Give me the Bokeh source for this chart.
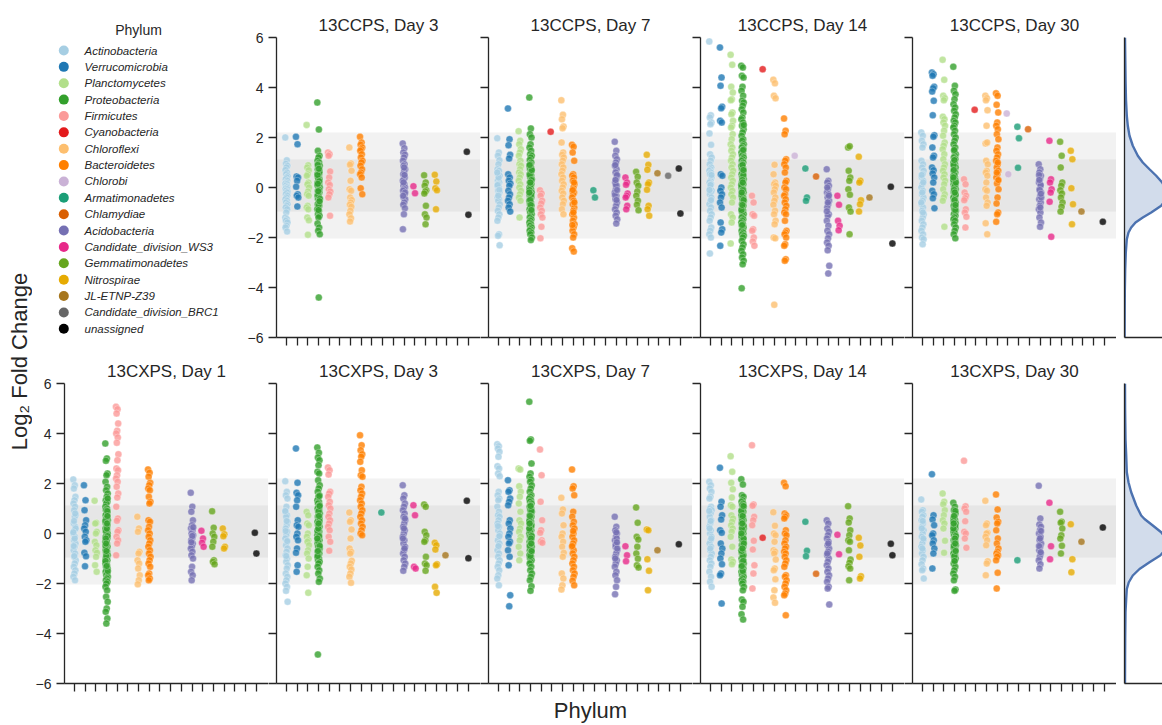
from bokeh.plotting import figure
from bokeh.models import ColumnDataSource, FixedTicker, BoxAnnotation, Label, Range1d
from bokeh.layouts import row, column
from bokeh.embed import file_html
from bokeh.resources import INLINE
from bokeh.core.properties import value

PHYLA = ["Actinobacteria", "Verrucomicrobia", "Planctomycetes", "Proteobacteria", "Firmicutes",
         "Cyanobacteria", "Chloroflexi", "Bacteroidetes", "Chlorobi", "Armatimonadetes", "Chlamydiae",
         "Acidobacteria", "Candidate_division_WS3", "Gemmatimonadetes", "Nitrospirae", "JL-ETNP-Z39",
         "Candidate_division_BRC1", "unassigned"]
COLORS = ["#a6cee3", "#1f78b4", "#b2df8a", "#33a02c", "#fb9a99", "#e31a1c", "#fdbf6f", "#ff7f00",
          "#cab2d6", "#1b9e77", "#d95f02", "#7570b3", "#e7298a", "#66a61e", "#e6ab02", "#a6761d",
          "#666666", "#000000"]
YTICKS = [-6, -4, -2, 0, 2, 4, 6]
YTICK_LABELS = ["\u22126", "\u22124", "\u22122", "0", "2", "4", "6"]
BAND_OUTER = [-2.04, 2.2]
BAND_INNER = [-0.96, 1.12]

TOP_TITLES = ["13CCPS, Day 3", "13CCPS, Day 7", "13CCPS, Day 14", "13CCPS, Day 30"]
BOTTOM_TITLES = ["13CXPS, Day 1", "13CXPS, Day 3", "13CXPS, Day 7", "13CXPS, Day 14", "13CXPS, Day 30"]

# log2 fold change per phylum (order of PHYLA), one list of lists per panel
CCPS_D3 = [
    [2.0, 1.09, 0.95, 0.87, 0.8, 0.7, 0.6, 0.53, 0.45, 0.4, 0.33, 0.27, 0.2, 0.15, 0.13, 0.07, 0.02, 0.0, -0.05, -0.07, -0.13, -0.18, -0.2, -0.27, -0.33, -0.4, -0.47, -0.53, -0.6, -0.67, -0.73, -0.8, -0.87, -1.0, -1.2, -1.27, -1.33, -1.4, -1.53, -1.6, -1.76],
    [2.03, 1.73, 0.44, 0.4, 0.27, 0.03, -0.27, -0.33, -0.4, -0.76],
    [2.5, 0.89, 0.8, 0.69, 0.53, 0.47, 0.2, 0.13, 0.0, -0.16, -0.27, -0.33, -0.73, -0.8, -0.87, -1.2, -1.31, -1.89],
    [3.4, 2.32, 1.47, 1.27, 1.2, 1.07, 1.0, 0.93, 0.87, 0.8, 0.73, 0.67, 0.6, 0.53, 0.47, 0.4, 0.33, 0.27, 0.2, 0.13, 0.07, 0.0, -0.07, -0.13, -0.2, -0.27, -0.33, -0.4, -0.47, -0.53, -0.6, -0.67, -0.73, -0.8, -0.87, -0.93, -1.07, -1.13, -1.2, -1.44, -1.6, -1.73, -1.87, -4.4, 0.9, 0.6, 0.35, 0.1, -0.1, -0.3, -0.5, -0.7, 0.5, 0.25, -0.15, -0.45, 0.75, 0.15, -0.55, -0.9],
    [1.4, 1.33, 1.27, 0.64, 0.4, 0.2, 0.1, -0.07, -0.16, -0.27, -0.4, -1.13],
    [],
    [1.6, 0.96, 0.91, 0.67, 0.27, -0.07, -0.13, -0.4, -0.5, -0.6, -0.69, -0.77, -0.93, -1.07, -1.23, -1.36],
    [2.03, 1.8, 1.71, 1.6, 1.53, 1.47, 1.33, 1.2, 1.07, 1.0, 0.87, 0.73, 0.6, 0.53, 0.4, -0.03, -0.27],
    [], [], [],
    [1.76, 1.57, 1.4, 1.31, 1.2, 1.07, 0.93, 0.87, 0.73, 0.67, 0.53, 0.4, 0.33, 0.27, 0.13, 0.07, 0.0, -0.07, -0.13, -0.27, -0.4, -0.47, -0.6, -0.69, -0.83, -1.07, -1.67, 0.5, 0.2, -0.2, 0.8, -0.33],
    [0.05, -0.23],
    [0.49, 0.2, 0.07, -0.11, -0.16, -0.24, -0.73, -1.07, -1.2, -1.47],
    [0.51, 0.24, -0.03, -0.11, -0.87],
    [], [],
    [1.43, -1.09],
]
CCPS_D7 = [
    [1.97, 1.4, 1.27, 1.09, 0.93, 0.73, 0.67, 0.53, 0.47, 0.33, 0.27, 0.2, 0.13, 0.07, 0.0, -0.13, -0.2, -0.27, -0.4, -0.47, -0.53, -0.67, -0.8, -0.93, -1.07, -1.2, -1.33, -1.87, -1.93, -2.31, 0.4, 0.1, -0.1, -0.33, 0.6],
    [3.16, 1.93, 1.69, 1.31, 1.16, 0.53, 0.4, 0.27, 0.16, 0.07, -0.13, -0.27, -0.4, -0.53, -0.67, -0.8, -0.96],
    [2.25, 1.87, 1.73, 1.53, 1.4, 1.27, 1.07, 0.93, 0.87, 0.73, 0.6, 0.53, 0.4, 0.27, 0.13, 0.0, -0.13, -0.27, -0.4, -0.53, -1.2],
    [3.6, 2.36, 2.13, 2.0, 1.73, 1.6, 1.47, 1.33, 1.27, 1.2, 1.1, 1.0, 0.93, 0.87, 0.8, 0.73, 0.67, 0.6, 0.53, 0.47, 0.4, 0.33, 0.27, 0.2, 0.13, 0.07, 0.0, -0.07, -0.13, -0.2, -0.27, -0.33, -0.4, -0.47, -0.53, -0.6, -0.67, -0.73, -0.8, -0.87, -0.93, -1.0, -1.07, -1.13, -1.2, -1.27, -1.33, -1.4, -1.47, -1.53, -1.6, -1.67, -1.73, -1.8, -1.87, -2.0, -2.1, 0.5, 0.3, 0.1, -0.1, -0.3, -0.5, 0.7, -0.7, 0.9, -0.9, 0.2, -0.2],
    [-0.11, -0.24, -0.33, -0.53, -0.64, -0.8, -0.93, -1.07, -1.2, -1.57, -2.03],
    [2.23],
    [3.49, 2.91, 2.73, 2.44, 2.37, 1.8, 1.4, 1.31, 1.2, 1.07, 0.93, 0.8, 0.67, 0.53, 0.4, 0.27, 0.13, 0.0, -0.13, -0.24, -0.4, -0.53, -0.67, -0.87, -1.07],
    [1.71, 1.63, 1.4, 1.07, 0.53, 0.47, 0.4, 0.27, 0.13, 0.0, -0.13, -0.2, -0.27, -0.4, -0.53, -0.67, -0.8, -0.93, -1.07, -1.2, -1.33, -1.47, -1.6, -1.73, -1.87, -2.0, -2.43, -2.56, -0.1, -0.6, -1.0, -1.5, 0.2],
    [],
    [-0.11, -0.4],
    [],
    [1.83, 1.47, 1.27, 1.13, 1.0, 0.87, 0.73, 0.6, 0.47, 0.33, 0.2, 0.07, -0.07, -0.2, -0.33, -0.47, -0.6, -0.73, -0.87, -1.0, -1.13, -1.27, -1.44, 0.9, 0.5, 0.1, -0.3, -0.5, 0.3, -0.1],
    [0.4, 0.2, 0.11, -0.24, -0.33, -0.4, -0.73, -0.87],
    [0.63, 0.43, 0.2, 0.07, -0.16, -0.33, -0.53, -0.69, -0.91],
    [1.31, 0.91, 0.71, 0.2, 0.13, -0.09, -0.73, -0.87, -1.13],
    [0.57],
    [0.47],
    [0.76, -1.04],
]
CCPS_D14 = [
    [5.84, 2.89, 2.8, 2.6, 2.53, 2.16, 1.71, 1.33, 1.2, 1.07, 0.93, 0.8, 0.73, 0.67, 0.6, 0.53, 0.4, 0.27, 0.2, 0.13, 0.0, -0.13, -0.2, -0.27, -0.4, -0.53, -0.67, -0.8, -0.93, -1.07, -1.2, -1.33, -1.6, -1.73, -1.87, -2.0, -2.64, 0.5, 0.1, -0.1, -0.5],
    [5.6, 4.4, 4.07, 3.23, 3.17, 2.67, 2.6, 0.53, 0.47, 0.0, -0.13, -0.27, -0.4, -0.6, -0.8, -1.4, -1.67, -1.8, -2.33],
    [5.31, 4.91, 4.03, 3.8, 3.53, 3.49, 3.0, 2.93, 2.67, 2.47, 2.4, 2.13, 1.93, 1.73, 1.6, 1.47, 1.33, 1.2, 1.07, 0.93, 0.8, 0.67, 0.53, 0.4, 0.27, 0.13, 0.0, -0.13, -0.27, -0.4, -0.6, -1.07, -1.2, -1.4, -2.24],
    [4.87, 4.8, 4.47, 4.4, 4.03, 3.87, 3.67, 3.47, 3.4, 3.27, 3.13, 3.0, 2.8, 2.73, 2.6, 2.47, 2.33, 2.2, 2.07, 1.93, 1.87, 1.73, 1.67, 1.6, 1.53, 1.47, 1.4, 1.33, 1.27, 1.2, 1.13, 1.07, 1.0, 0.93, 0.87, 0.8, 0.73, 0.67, 0.6, 0.53, 0.47, 0.4, 0.33, 0.27, 0.2, 0.13, 0.07, 0.0, -0.07, -0.13, -0.2, -0.27, -0.33, -0.4, -0.47, -0.53, -0.6, -0.67, -0.73, -0.8, -0.87, -0.93, -1.0, -1.07, -1.13, -1.2, -1.27, -1.33, -1.4, -1.47, -1.53, -1.6, -1.67, -1.73, -1.8, -1.87, -1.93, -2.0, -2.13, -2.27, -2.4, -2.53, -2.67, -2.8, -2.93, -3.07, -4.03, 0.5, 0.3, 0.1, -0.1, -0.3, -0.5, 0.9, -0.9, 1.5, -1.5, 2.5, 0.2, -0.2, 0.7, -0.7],
    [-0.33, -0.6, -1.07, -1.13, -1.67, -1.73, -2.0, -2.16, -2.33],
    [4.73],
    [4.31, 4.17, 3.67, 3.57, 0.91, 0.53, 0.2, 0.13, 0.07, -0.07, -0.2, -0.4, -0.53, -0.69, -0.93, -1.07, -1.33, -1.47, -2.0, -2.03, -4.69],
    [2.76, 2.27, 2.13, 1.13, 1.07, 0.93, 0.8, 0.6, 0.27, 0.2, 0.0, -0.07, -0.27, -0.33, -0.47, -0.6, -0.73, -0.87, -1.0, -1.07, -1.33, -1.73, -1.8, -1.87, -2.0, -2.27, -2.33, -2.87, -2.93],
    [1.27],
    [0.76, -0.4, -0.53],
    [0.44],
    [0.73, 0.27, 0.2, 0.07, -0.07, -0.2, -0.27, -0.4, -0.53, -0.67, -0.8, -1.07, -1.13, -1.33, -1.53, -1.73, -1.87, -2.03, -2.2, -2.33, -2.51, -3.13, -3.44, 0.0, -0.33, -0.6, -0.95],
    [-0.33, -0.69, -1.33, -1.53, -1.71],
    [1.6, 1.65, 0.67, 0.4, 0.27, -0.07, -0.29, -0.8, -0.96, -1.87],
    [1.23, 0.27, 0.2, -0.51, -0.67, -0.96],
    [-0.4],
    [],
    [0.03, -2.24],
]
CCPS_D30 = [
    [2.2, 2.07, 1.87, 1.73, 1.6, 1.07, 0.93, 0.8, 0.67, 0.53, 0.4, 0.27, 0.13, 0.0, -0.13, -0.27, -0.4, -0.53, -0.67, -0.8, -0.93, -1.07, -1.2, -1.33, -1.47, -1.6, -1.73, -1.87, -2.0, -2.07, -2.27, 0.5, 0.2, -0.2, -0.6, -1.0],
    [4.6, 4.53, 4.47, 4.03, 3.97, 3.84, 3.47, 2.89, 2.09, 2.03, 1.6, 1.27, 1.2, 0.8, 0.69, 0.56, 0.4, 0.2, -0.13, -0.27, -0.43, -0.83],
    [5.11, 4.31, 3.67, 3.57, 3.49, 2.83, 2.73, 2.6, 2.47, 2.27, 2.07, 1.8, 1.67, 1.53, 1.33, 1.13, 0.93, 0.8, 0.67, 0.53, 0.4, 0.27, 0.13, -0.07, -0.27, -0.4, -0.53, -1.57],
    [4.83, 4.07, 3.87, 3.73, 3.53, 3.33, 3.2, 3.07, 2.93, 2.8, 2.67, 2.6, 2.47, 2.4, 2.27, 2.13, 2.0, 1.87, 1.73, 1.6, 1.47, 1.33, 1.27, 1.2, 1.13, 1.07, 1.0, 0.93, 0.87, 0.8, 0.73, 0.67, 0.6, 0.53, 0.47, 0.4, 0.33, 0.27, 0.2, 0.13, 0.07, 0.0, -0.07, -0.13, -0.2, -0.27, -0.33, -0.4, -0.47, -0.53, -0.6, -0.67, -0.73, -0.8, -0.87, -0.93, -1.0, -1.07, -1.13, -1.2, -1.27, -1.33, -1.47, -1.6, -1.73, -1.87, -2.03, 0.5, 0.3, 0.1, -0.1, -0.3, -0.5, 0.9, -0.9, 1.5, 0.2, -0.2, 0.7, -0.7, 1.1, 0.4],
    [0.33, 0.13, -0.2, -0.33, -0.43, -0.51, -0.87, -1.0, -1.17, -1.6],
    [3.11],
    [3.67, 3.57, 3.49, 3.09, 2.47, 1.76, 1.8, 1.07, 0.93, 0.67, 0.6, 0.47, 0.2, -0.07, -0.13, -0.4, -0.6, -0.73, -1.43, -1.87],
    [3.77, 3.67, 3.31, 3.0, 2.6, 2.47, 2.33, 2.13, 1.93, 1.6, 1.47, 1.33, 1.2, 1.07, 0.93, 0.8, 0.67, 0.53, 0.4, 0.27, 0.16, -0.07, -0.4, -0.64, -1.0, -1.07, -1.37, 1.0, 0.6, 0.3],
    [2.96, 0.53],
    [2.43, 1.97, 0.79],
    [2.33],
    [0.93, 0.73, 0.6, 0.47, 0.33, 0.2, 0.07, -0.07, -0.2, -0.33, -0.47, -0.6, -0.73, -0.87, -1.0, -1.2, -1.4, -1.57, 0.5, 0.1, -0.1, -0.4, -0.8, 0.3, -0.25],
    [1.87, 0.33, 0.2, -0.07, -0.2, -0.57, -1.97],
    [1.83, 1.27, 0.8, 0.2, 0.07, -0.11, -0.24, -0.4, -0.6, -0.77, -0.96],
    [1.47, 1.13, -0.03, -0.67, -1.47],
    [-0.96],
    [],
    [-1.37],
]
CXPS_D1 = [
    [2.16, 1.93, 1.8, 1.47, 1.33, 1.2, 1.07, 0.93, 0.73, 0.67, 0.4, 0.27, 0.13, 0.0, -0.13, -0.27, -0.4, -0.53, -0.67, -0.8, -0.93, -1.07, -1.2, -1.33, -1.47, -1.6, -1.73, -1.87, 0.5, 0.2, -0.2, -0.5, 0.8, -0.9, 0.05],
    [1.93, 1.33, 0.93, 0.53, 0.33, 0.2, 0.07, -0.13, -0.27, -0.33, -0.77, -0.91, -1.31],
    [1.31, 0.43, 0.4, 0.07, 0.0, -0.33, -0.47, -0.67, -0.77, -0.93, -1.27, -1.53],
    [3.6, 3.0, 2.91, 2.4, 2.33, 2.07, 1.87, 1.73, 1.6, 1.47, 1.33, 1.27, 1.2, 1.07, 1.0, 0.93, 0.87, 0.8, 0.73, 0.67, 0.6, 0.53, 0.47, 0.4, 0.33, 0.27, 0.2, 0.13, 0.07, 0.0, -0.07, -0.13, -0.2, -0.27, -0.33, -0.4, -0.47, -0.53, -0.6, -0.67, -0.73, -0.8, -0.87, -0.93, -1.0, -1.07, -1.13, -1.2, -1.27, -1.33, -1.4, -1.47, -1.53, -1.6, -1.67, -1.73, -1.8, -1.87, -1.93, -2.0, -2.13, -2.27, -2.53, -2.73, -3.0, -3.13, -3.4, -3.6, 0.5, 0.3, 0.1, -0.1, -0.3, -0.5, 0.9, -0.9, -1.5, 0.2, -0.2, 0.7, -0.7, -1.1, 0.4, -0.4, 1.4, -1.3],
    [5.07, 4.97, 4.8, 4.4, 4.11, 4.0, 3.84, 3.63, 3.17, 2.93, 2.6, 2.53, 2.33, 2.2, 2.07, 1.87, 1.6, 1.44, 1.07, 0.6, 0.51, 0.13, 0.07, -0.13, -0.27, -0.4, -0.87],
    [],
    [0.67, 0.2, 0.07, -0.73, -0.8, -1.07, -1.2, -1.4, -1.67, -1.87, -2.03],
    [2.56, 2.43, 2.27, 2.03, 1.93, 1.8, 1.73, 1.47, 1.27, 1.2, 0.53, 0.47, 0.27, 0.13, 0.0, -0.13, -0.27, -0.4, -0.53, -0.67, -0.8, -0.93, -1.07, -1.2, -1.33, -1.6, -1.67, -1.8, -1.87],
    [], [], [],
    [1.63, 1.07, 0.87, 0.53, 0.33, 0.2, 0.13, 0.0, -0.07, -0.2, -0.27, -0.4, -0.53, -0.6, -0.73, -0.87, -1.0, -1.33, -1.53, -1.67, -1.87, 0.25, -0.1, -0.35],
    [0.11, -0.2, -0.37, -0.53],
    [0.89, 0.23, 0.0, -0.13, -0.33, -0.53, -1.07, -1.13, -1.23],
    [0.2, -0.03, -0.11, -0.53, -0.6],
    [], [],
    [0.03, -0.8],
]
CXPS_D3 = [
    [2.09, 1.67, 1.53, 1.4, 1.07, 0.87, 0.73, 0.67, 0.47, 0.33, 0.2, 0.07, -0.07, -0.2, -0.33, -0.47, -0.6, -0.73, -0.87, -1.0, -1.13, -1.27, -1.4, -1.6, -1.73, -1.87, -2.0, -2.13, -2.29, -2.73, 0.5, 0.1, -0.3, -0.9, 0.9],
    [3.4, 2.03, 1.63, 1.53, 1.33, 1.07, 0.53, 0.33, 0.27, 0.0, -0.13, -0.27, -0.6, -0.77, -1.27, -1.53],
    [0.87, 0.73, 0.4, 0.33, 0.0, -0.13, -0.27, -0.33, -0.47, -0.67, -0.8, -1.0, -1.33, -1.67, -2.37],
    [3.44, 3.23, 3.04, 2.93, 2.73, 2.47, 2.4, 2.13, 1.93, 1.8, 1.67, 1.53, 1.47, 1.33, 1.27, 1.2, 1.13, 1.07, 1.0, 0.93, 0.87, 0.8, 0.73, 0.67, 0.6, 0.53, 0.47, 0.4, 0.33, 0.27, 0.2, 0.13, 0.07, 0.0, -0.07, -0.13, -0.2, -0.27, -0.33, -0.4, -0.47, -0.53, -0.6, -0.67, -0.73, -0.8, -0.87, -0.93, -1.0, -1.07, -1.13, -1.2, -1.33, -1.47, -1.6, -1.8, -1.93, -4.84, 0.5, 0.3, 0.1, -0.1, -0.3, -0.5, 0.9, -0.9, 1.5, 0.2, -0.2, 0.7, -0.7, 1.1, 0.4],
    [2.64, 2.53, 2.36, 1.67, 1.6, 1.47, 1.27, 1.13, 1.0, 0.8, 0.67, 0.53, 0.4, 0.27, 0.13, -0.13, -0.33, -0.69],
    [],
    [0.84, 0.53, 0.47, 0.16, -0.2, -0.6, -0.73, -0.8, -1.09, -1.2, -1.33, -1.44, -1.6, -1.73, -1.97],
    [3.93, 3.53, 3.33, 3.17, 3.07, 2.87, 2.53, 2.33, 2.27, 1.87, 1.73, 1.6, 1.47, 1.33, 1.2, 1.07, 0.93, 0.8, 0.67, 0.53, 0.4, 0.27, 0.13, 0.0, -0.07],
    [],
    [0.84],
    [],
    [1.93, 1.53, 1.4, 1.2, 1.07, 0.93, 0.8, 0.67, 0.53, 0.4, 0.27, 0.13, 0.0, -0.13, -0.27, -0.4, -0.53, -0.67, -0.8, -0.93, -1.07, -1.2, -1.33, -1.49, 0.6, 0.2, -0.2, -0.6],
    [1.13, 0.73, -1.33, -1.4],
    [1.16, 1.07, 0.07, -0.07, -0.27, -0.33, -0.93, -1.2, -1.27, -1.49],
    [-0.37, -0.47, -0.64, -1.23, -1.27, -2.13, -2.37],
    [-0.87],
    [],
    [1.31, -0.99],
]
CXPS_D7 = [
    [3.57, 3.49, 3.4, 3.27, 3.07, 2.69, 2.6, 2.4, 2.29, 1.67, 1.53, 1.4, 1.33, 1.07, 0.87, 0.73, 0.67, 0.53, 0.4, 0.27, 0.13, 0.0, -0.13, -0.27, -0.4, -0.53, -0.67, -0.8, -0.93, -1.07, -1.2, -1.33, -1.47, -1.67, -1.8, -2.07, 0.3, -0.1, -0.5],
    [2.13, 1.73, 1.67, 1.4, 1.27, 1.13, 0.53, 0.4, 0.2, 0.0, -0.13, -0.33, -0.4, -0.67, -0.93, -1.27, -2.47, -2.91],
    [2.6, 2.56, 1.89, 1.67, 1.47, 1.2, 0.87, 0.53, 0.4, 0.2, 0.07, -0.13, -0.27, -0.53, -0.8, -1.07],
    [5.27, 3.76, 3.71, 2.8, 2.4, 2.27, 2.16, 2.07, 1.93, 1.8, 1.67, 1.53, 1.47, 1.4, 1.33, 1.27, 1.2, 1.13, 1.07, 1.0, 0.93, 0.87, 0.8, 0.73, 0.67, 0.6, 0.53, 0.47, 0.4, 0.33, 0.27, 0.2, 0.13, 0.07, 0.0, -0.07, -0.13, -0.2, -0.27, -0.33, -0.4, -0.47, -0.53, -0.6, -0.67, -0.73, -0.8, -0.87, -0.93, -1.0, -1.07, -1.13, -1.2, -1.33, -1.47, -1.6, -1.73, -1.87, -2.11, -2.29, 0.5, 0.3, 0.1, -0.1, -0.3, -0.5, 0.9, -0.9, 0.2, -0.2, 0.7, -0.7, 1.1, 0.4, -0.4],
    [3.36, 2.33, 1.27, 0.53, 0.13, 0.03, -0.27, -0.33, -0.37],
    [],
    [1.43, 0.96, 0.8, 0.33, 0.0, -0.13, -0.33, -0.53, -0.77, -0.93, -1.6, -1.8, -2.07, -2.24],
    [2.56, 1.89, 1.8, 1.53, 0.87, 0.67, 0.47, 0.33, 0.2, 0.0, -0.13, -0.27, -0.4, -0.53, -0.67, -0.8, -0.93, -1.07, -1.2, -1.33, -1.47, -1.6, -1.73, -1.89, -2.07, 0.1, -0.5],
    [], [], [],
    [0.67, 0.27, 0.13, 0.0, -0.13, -0.27, -0.4, -0.53, -0.67, -0.8, -0.93, -1.07, -1.2, -1.33, -1.53, -1.67, -1.87, -2.13, -2.43, -0.2, -0.45, -0.6, 0.05, -1.0, -0.35],
    [-0.51, -0.87, -1.11],
    [1.04, 0.43, -0.13, -0.24, -0.53, -0.8, -1.01, -1.27, -1.36],
    [0.16, 0.13, -1.03, -1.49, -2.27],
    [-0.67],
    [],
    [-0.43],
]
CXPS_D14 = [
    [2.07, 1.93, 1.8, 1.67, 1.47, 1.4, 1.07, 1.0, 0.93, 0.8, 0.67, 0.53, 0.4, 0.27, 0.13, 0.0, -0.13, -0.27, -0.4, -0.53, -0.67, -0.8, -0.93, -1.07, -1.2, -1.33, -1.53, -1.73, -1.93, -2.13, 0.5, 0.2, -0.2, -0.6, 0.9],
    [2.63, 1.27, 1.07, 0.73, 0.56, 0.13, 0.03, -0.4, -0.6, -0.8, -1.0, -1.23, -1.6, -1.67, -2.8],
    [3.09, 2.47, 2.03, 1.77, 1.44, 1.13, 1.07, 0.73, 0.6, 0.47, 0.33, 0.2, 0.07, -0.13, -0.53, -1.04, -1.13, -1.23],
    [2.17, 1.96, 1.53, 1.47, 1.33, 1.27, 1.2, 1.13, 1.07, 1.0, 0.93, 0.87, 0.8, 0.73, 0.67, 0.6, 0.53, 0.47, 0.4, 0.33, 0.27, 0.2, 0.13, 0.07, 0.0, -0.07, -0.13, -0.2, -0.27, -0.33, -0.4, -0.47, -0.53, -0.6, -0.67, -0.73, -0.8, -0.87, -0.93, -1.0, -1.07, -1.13, -1.2, -1.27, -1.33, -1.4, -1.47, -1.53, -1.6, -1.67, -1.73, -1.8, -1.87, -1.93, -2.0, -2.13, -2.27, -2.64, -2.73, -2.93, -3.23, -3.44, 0.5, 0.3, 0.1, -0.1, -0.3, -0.5, 0.9, -0.9, 0.2, -0.2, 0.7, -0.7, -1.1, 0.4, -0.4, -1.5, -1.3, 1.1, -0.6, 0.0],
    [3.53, 1.16, 1.11, 0.67, 0.53, 0.33, -0.29, -0.64, -1.27, -1.6, -2.2],
    [-0.17],
    [0.85, 0.31, 0.0, -0.07, -0.33, -0.67, -0.73, -0.8, -1.04, -1.4, -1.47, -1.83, -2.27, -2.56, -2.77],
    [2.03, 1.89, 0.8, 0.73, 0.67, 0.6, 0.13, 0.0, -0.07, -0.27, -0.4, -0.53, -0.6, -0.73, -0.8, -0.93, -1.07, -1.2, -1.33, -1.67, -1.73, -1.87, -2.0, -2.13, -2.27, -2.4, -2.47, -3.27],
    [],
    [0.47, -0.69, -0.91],
    [-1.61],
    [0.53, 0.4, 0.2, 0.07, -0.07, -0.2, -0.33, -0.47, -0.6, -0.73, -0.87, -1.0, -1.13, -1.27, -1.4, -1.53, -1.67, -1.8, -1.93, -2.13, -2.2, -2.84, -0.4, -0.8],
    [-0.05, -0.83],
    [1.09, 0.6, 0.44, 0.13, -0.07, -0.27, -0.33, -0.67, -1.04, -1.17, -1.31, -1.4, -1.87],
    [-0.17, -0.48, -0.93, -1.71, -1.8],
    [], [],
    [-0.41, -0.87],
]
CXPS_D30 = [
    [1.36, 0.93, 0.87, 0.73, 0.67, 0.53, 0.4, 0.27, 0.13, 0.0, -0.13, -0.27, -0.4, -0.53, -0.67, -0.8, -0.93, -1.07, -1.23, -1.4, -1.47, -1.8, 0.5, 0.2, -0.2, -0.6],
    [2.37, 0.73, 0.56, 0.33, 0.0, -0.07, -0.27, -0.4, -0.6, -0.8, -1.4],
    [1.6, 1.27, 1.17, 0.93, 0.73, 0.53, 0.4, 0.2, -0.29, -0.77],
    [1.23, 1.07, 0.93, 0.8, 0.67, 0.6, 0.53, 0.47, 0.4, 0.33, 0.27, 0.2, 0.13, 0.07, 0.0, -0.07, -0.13, -0.2, -0.27, -0.33, -0.4, -0.47, -0.53, -0.6, -0.67, -0.73, -0.8, -0.87, -0.93, -1.0, -1.07, -1.2, -1.33, -1.47, -1.6, -1.73, -1.87, -2.24, -2.29, 0.5, 0.3, 0.1, -0.1, -0.3, -0.5, 0.9, -0.9, 0.2, -0.2, 0.7, -0.7, -1.1, 0.4, -0.4],
    [2.91, 1.09, 1.0, 0.87, 0.49, 0.07, 0.0, -0.2, -0.57],
    [],
    [1.31, 0.4, 0.33, 0.03, 0.0, -0.13, -0.27, -0.47, -1.11, -1.2, -1.67],
    [1.56, 0.96, 0.64, 0.47, 0.4, 0.13, -0.2, -0.4, -0.6, -0.73, -0.8, -0.87, -0.93, -1.07, -1.57, -2.2],
    [],
    [-1.07],
    [],
    [1.91, 0.6, 0.36, 0.27, 0.13, 0.0, -0.13, -0.27, -0.4, -0.53, -0.67, -0.8, -0.93, -1.07, -1.23, -1.4, 0.1, -0.2, -0.5, -0.75],
    [1.23, -0.51, -1.03],
    [0.87, 0.47, 0.43, 0.2, -0.07, -0.2, -0.49, -0.8],
    [0.37, -1.03, -1.55],
    [-0.33],
    [],
    [0.24],
]

# kernel density of all log2 fold changes (value, density) for each row
DENS_TOP_Y = [6.0, 5.1, 4.2, 3.5, 2.87, 2.47, 2.07, 1.67, 1.27, 1.0, 0.73, 0.47, 0.2, 0.0, -0.25, -0.5, -0.73, -1.0, -1.2, -1.4, -1.6, -1.8, -2.07, -2.6, -3.27, -4.2, -5.0, -6.0]
DENS_TOP_X = [0.5, 0.8, 1.1, 1.5, 2.3, 3.3, 5.0, 8.3, 13.3, 18.3, 25.0, 31.7, 37.7, 41.0, 43.5, 41.0, 36.7, 26.7, 18.3, 11.0, 6.7, 4.0, 2.3, 1.3, 0.7, 0.3, 0.2, 0.1]
DENS_BOT_Y = [6.0, 5.0, 4.4, 3.78, 3.12, 2.45, 2.05, 1.65, 1.12, 0.72, 0.58, 0.32, 0.05, -0.2, -0.42, -0.65, -0.88, -1.15, -1.42, -1.68, -1.95, -2.22, -2.62, -3.15, -4.22, -5.0, -6.0]
DENS_BOT_X = [0.5, 0.6, 0.8, 1.0, 1.7, 2.3, 4.0, 6.7, 11.7, 16.7, 20.0, 28.3, 36.7, 41.5, 43.0, 41.0, 35.7, 25.0, 15.0, 8.3, 4.3, 2.3, 1.7, 1.0, 0.7, 0.6, 0.5]

FONT = "Liberation Sans"
TXT = "#262626"
FRAME_W, FRAME_H = 204, 300
X_RANGE = (-0.94, 18.16)
JIT = 0.24
TOP_B, BOT_B_TOP_ROW, BOT_B_BOTTOM_ROW = 37, 9, 42
LEFT_FIRST = 32


def style_axis(ax, marks, labels=None):
    ax.axis_line_color = TXT
    ax.axis_line_width = 1.3
    ax.major_tick_line_color = TXT
    ax.major_tick_line_width = 1.3
    ax.minor_tick_line_color = TXT
    ax.minor_tick_line_width = 1.3
    ax.major_tick_in = 0
    ax.minor_tick_in = 0
    ax.major_tick_out = 8
    ax.minor_tick_out = 8
    if labels is None:
        # unlabeled tick marks: drawn as minor ticks so that no empty label is rendered
        ax.ticker = FixedTicker(ticks=[], minor_ticks=marks)
    else:
        ax.ticker = FixedTicker(ticks=marks, minor_ticks=[])
        ax.major_label_overrides = {t: s for t, s in zip(marks, labels)}
        ax.major_label_text_font = FONT
        ax.major_label_text_font_size = "14px"
        ax.major_label_text_color = TXT
        ax.major_label_standoff = 5


def base_fig(x_range, frame_w, left_border, bottom_border):
    p = figure(frame_width=frame_w, frame_height=FRAME_H, output_backend="svg", toolbar_location=None,
               x_range=x_range, y_range=Range1d(-6, 6), min_border_left=left_border,
               min_border_right=0, min_border_top=TOP_B, min_border_bottom=bottom_border)
    p.grid.visible = False
    p.outline_line_color = None
    p.background_fill_color = "white"
    p.border_fill_color = "white"
    return p


def panel(title, data, show_labels, left_border, bottom_border):
    p = base_fig(Range1d(*X_RANGE), FRAME_W, left_border, bottom_border)
    p.title.text = title
    p.title.align = "center"
    p.title.text_font = FONT
    p.title.text_font_size = "17px"
    p.title.text_font_style = "normal"
    p.title.text_color = TXT
    p.title.standoff = 5
    p.add_layout(BoxAnnotation(bottom=BAND_OUTER[0], top=BAND_OUTER[1], fill_color="#808080",
                               fill_alpha=0.1, line_alpha=0, level="underlay"))
    p.add_layout(BoxAnnotation(bottom=BAND_INNER[0], top=BAND_INNER[1], fill_color="#808080",
                               fill_alpha=0.1, line_alpha=0, level="underlay"))
    xs, ys, cs = [], [], []
    for i, vals in enumerate(data):
        for k, v in enumerate(vals):
            xs.append(i + ((k * 0.618034) % 1.0 - 0.5) * JIT)
            ys.append(v)
            cs.append(COLORS[i])
    src = ColumnDataSource(dict(x=xs, y=ys, c=cs))
    p.scatter("x", "y", source=src, size=7, fill_color="c", fill_alpha=0.8,
              line_color="white", line_width=0.5, line_alpha=0.6)
    style_axis(p.xaxis[0], list(range(len(PHYLA))))
    style_axis(p.yaxis[0], YTICKS, YTICK_LABELS if show_labels else None)
    return p


def density(ys, xs, bottom_border):
    p = base_fig(Range1d(0, 38), 38, 8, bottom_border)
    p.harea(x1=[0] * len(ys), x2=xs, y=ys, fill_color="#4c72b0", fill_alpha=0.25)
    p.line(xs, ys, line_color="#4c72b0", line_width=2.4)
    style_axis(p.xaxis[0], [])
    style_axis(p.yaxis[0], [])
    return p


# legend figure (top-left slot): its frame spans screen y 37..337, data y = 337 - screen y
leg = figure(frame_width=212, frame_height=FRAME_H, x_range=Range1d(0, 212), y_range=Range1d(0, FRAME_H),
             output_backend="svg", toolbar_location=None, x_axis_location=None, y_axis_location=None,
             min_border_left=0, min_border_right=0, min_border_top=TOP_B, min_border_bottom=BOT_B_TOP_ROW)
leg.grid.visible = False
leg.outline_line_color = None
leg.title.text = "Phylum"
leg.title.align = "center"
leg.title.offset = -3
leg.title.standoff = 0
leg.title.text_font = FONT
leg.title.text_font_size = "14px"
leg.title.text_font_style = "normal"
leg.title.text_color = TXT
leg_y = [TOP_B + FRAME_H - (50 + 16.37 * i) for i in range(len(PHYLA))]
leg.scatter(x=[63.3 - LEFT_FIRST] * len(PHYLA), y=leg_y, size=10, fill_color=COLORS, line_color=None)
leg.text(x=[84 - LEFT_FIRST] * len(PHYLA), y=leg_y, text=PHYLA, text_font=value(FONT),
         text_font_style="italic", text_font_size=value("11.5px"), text_color=TXT,
         text_baseline="middle", text_align="left")

top_panels = [panel(TOP_TITLES[0], CCPS_D3, True, LEFT_FIRST, BOT_B_TOP_ROW),
              panel(TOP_TITLES[1], CCPS_D7, False, 8, BOT_B_TOP_ROW),
              panel(TOP_TITLES[2], CCPS_D14, False, 8, BOT_B_TOP_ROW),
              panel(TOP_TITLES[3], CCPS_D30, False, 8, BOT_B_TOP_ROW),
              density(DENS_TOP_Y, DENS_TOP_X, BOT_B_TOP_ROW)]
bot_panels = [panel(BOTTOM_TITLES[0], CXPS_D1, True, LEFT_FIRST, BOT_B_BOTTOM_ROW),
              panel(BOTTOM_TITLES[1], CXPS_D3, False, 8, BOT_B_BOTTOM_ROW),
              panel(BOTTOM_TITLES[2], CXPS_D7, False, 8, BOT_B_BOTTOM_ROW),
              panel(BOTTOM_TITLES[3], CXPS_D14, False, 8, BOT_B_BOTTOM_ROW),
              panel(BOTTOM_TITLES[4], CXPS_D30, False, 8, BOT_B_BOTTOM_ROW),
              density(DENS_BOT_Y, DENS_BOT_X, BOT_B_BOTTOM_ROW)]

# x-axis title on the middle facet of the bottom row
mid = bot_panels[2].xaxis[0]
mid.axis_label = "Phylum"
mid.axis_label_text_font = FONT
mid.axis_label_text_font_size = "22px"
mid.axis_label_text_font_style = "normal"
mid.axis_label_text_color = TXT
mid.major_label_standoff = 5
mid.axis_label_standoff = 6

# y-axis title in a narrow strip to the left of both rows
ylab = figure(width=LEFT_FIRST, height=725, x_range=Range1d(0, LEFT_FIRST), y_range=Range1d(0, 725),
              output_backend="svg", toolbar_location=None, x_axis_location=None, y_axis_location=None,
              min_border=0)
ylab.grid.visible = False
ylab.outline_line_color = None
ylab.add_layout(Label(x=19, y=725 - 361, text="Log\u2082 Fold Change", angle=90, angle_units="deg",
                      text_font=FONT, text_font_size="22px", text_color=TXT,
                      text_align="center", text_baseline="middle"))

layout = row(ylab, column(row(leg, *top_panels), row(*bot_panels)))

with open("out.html", "w") as f:
    f.write(file_html(layout, INLINE))
